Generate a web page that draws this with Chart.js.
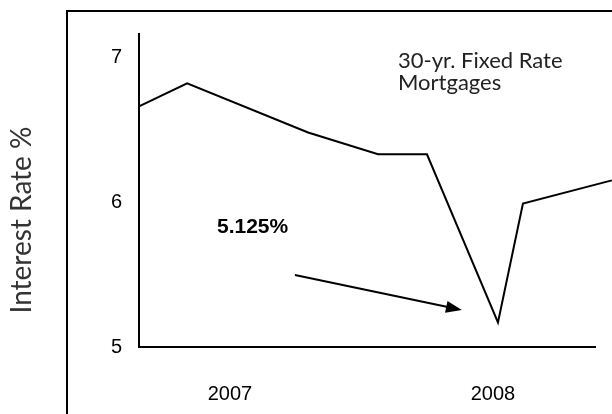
<!DOCTYPE html>
<html>
<head>
<meta charset="utf-8">
<script src="https://cdn.jsdelivr.net/npm/chart.js@4.4.1/dist/chart.umd.min.js"></script>
<style>
    body { margin: 0; background: #fff; }
    #contenedor { width: 612px; height: 414px; position: relative; }
</style>
</head>
<body>
<div id="contenedor"><canvas id="chart1"></canvas></div>
<script>
// Datos (fecha en años fraccionados, tasa en %).
const FECHAS = [2006.654, 2006.837, 2007.297, 2007.563, 2007.749, 2008.019, 2008.114, 2008.452];
const TASAS = [6.66, 6.82, 6.48, 6.33, 6.33, 5.17, 5.99, 6.15];
// Etiquetas de los ejes.
const ANIOS = [2007, 2008];
const TICKS_Y = [5, 6, 7];

const FUENTE_TEXTO = '"Lato", "Open Sans", sans-serif';
const FUENTE_EJES = '"Liberation Sans", Arial, sans-serif';

// Plugin para el marco, el título del eje, las notas y la flecha.
const notasPlugin = {
    id: 'notas',
    afterDraw: (chart) => {
        const ctx = chart.ctx;
        const x = chart.scales.x;
        const y = chart.scales.y;
        ctx.save();
        // Marco exterior.
        ctx.strokeStyle = '#000';
        ctx.lineWidth = 2;
        ctx.strokeRect(67, 11, 700, 500);

        // Título del eje Y.
        ctx.fillStyle = '#333';
        ctx.font = `400 28px ${FUENTE_TEXTO}`;
        ctx.textAlign = 'center';
        ctx.textBaseline = 'middle';
        ctx.translate(22, 220);
        ctx.rotate(-Math.PI / 2);
        ctx.fillText('Interest Rate %', 0, 0);
        ctx.setTransform(chart.currentDevicePixelRatio, 0, 0, chart.currentDevicePixelRatio, 0, 0);

        // Leyenda de la serie.
        ctx.fillStyle = '#222';
        ctx.textAlign = 'left';
        ctx.textBaseline = 'alphabetic';
        ctx.font = `400 22px ${FUENTE_TEXTO}`;
        ctx.fillText('30-yr. Fixed Rate', 398, 68);
        ctx.fillText('Mortgages', 398, 90);

        // Nota del valor mínimo.
        ctx.fillStyle = '#000';
        ctx.font = `bold 21px ${FUENTE_EJES}`;
        ctx.fillText('5.125%', 217, 233);

        // Flecha hacia el mínimo.
        const x0 = x.getPixelForValue(2007.247);
        const y0 = y.getPixelForValue(5.497);
        const x1 = x.getPixelForValue(2007.882);
        const y1 = y.getPixelForValue(5.255);
        const ang = Math.atan2(y1 - y0, x1 - x0);
        ctx.lineWidth = 2;
        ctx.beginPath();
        ctx.moveTo(x0, y0);
        ctx.lineTo(x1 - 12 * Math.cos(ang), y1 - 12 * Math.sin(ang));
        ctx.stroke();
        ctx.beginPath();
        ctx.moveTo(x1, y1);
        ctx.lineTo(x1 - 16 * Math.cos(ang) + 6 * Math.sin(ang), y1 - 16 * Math.sin(ang) - 6 * Math.cos(ang));
        ctx.lineTo(x1 - 16 * Math.cos(ang) - 6 * Math.sin(ang), y1 - 16 * Math.sin(ang) + 6 * Math.cos(ang));
        ctx.closePath();
        ctx.fill();
        ctx.restore();
    }
};

const puntos = FECHAS.map((f, i) => ({ x: f, y: TASAS[i] }));

new Chart(document.getElementById('chart1'), {
    type: 'line',
    data: {
        datasets: [{
            data: puntos,
            borderColor: '#000',
            borderWidth: 2,
            pointRadius: 0,
            tension: 0,
            clip: false
        }]
    },
    options: {
        responsive: true,
        maintainAspectRatio: false,
        animation: false,
        layout: { padding: { top: 34, right: 17, left: 0, bottom: 0 } },
        plugins: { legend: { display: false }, tooltip: { enabled: false } },
        scales: {
            x: {
                type: 'linear',
                min: 2006.654,
                max: 2008.388,
                grid: { display: false, drawTicks: false },
                border: { display: true, color: '#000', width: 2 },
                afterBuildTicks: (scale) => { scale.ticks = ANIOS.map(v => ({ value: v })); },
                afterFit: (scale) => { scale.height = 67; },
                ticks: {
                    padding: 35,
                    color: '#000',
                    font: { family: FUENTE_EJES, size: 20 },
                    callback: (v) => String(v)
                }
            },
            y: {
                min: 5,
                max: 7.16,
                grid: { display: false, drawTicks: false },
                border: { display: true, color: '#000', width: 2 },
                afterBuildTicks: (scale) => { scale.ticks = TICKS_Y.map(v => ({ value: v })); },
                afterFit: (scale) => { scale.width = 139; },
                ticks: {
                    padding: 17,
                    color: '#000',
                    font: { family: FUENTE_EJES, size: 20 }
                }
            }
        }
    },
    plugins: [notasPlugin]
});
</script>
</body>
</html>
